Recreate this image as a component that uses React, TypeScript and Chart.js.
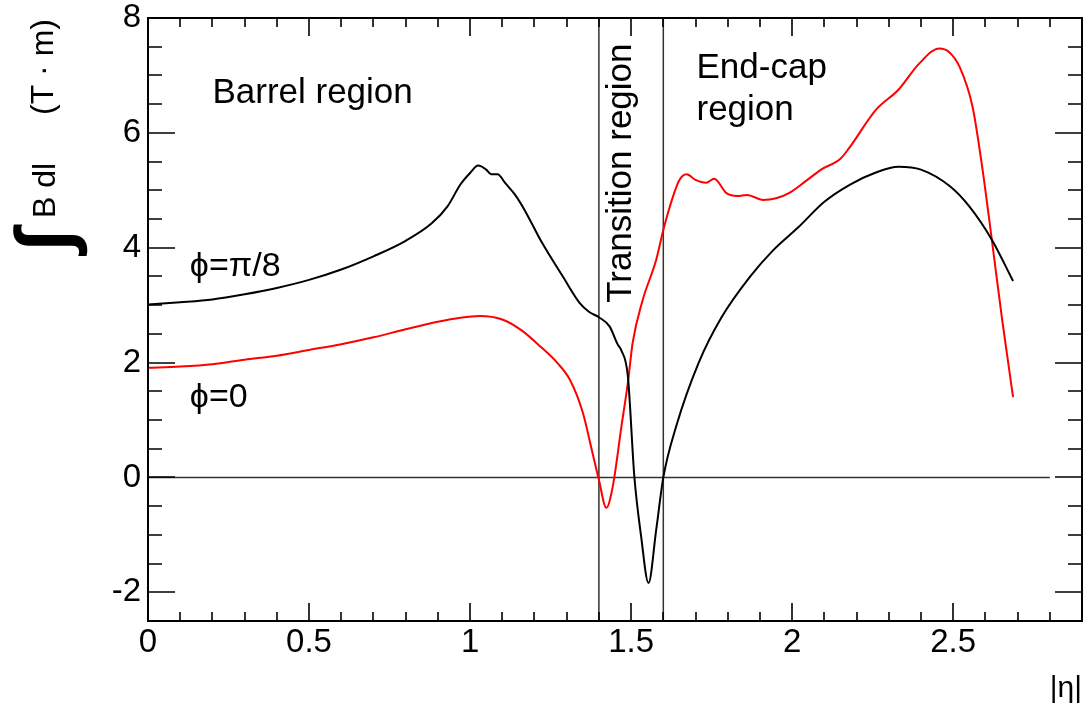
import { useEffect, useRef } from "react";
import { Chart, registerables } from "chart.js";

Chart.register(...registerables);

// ---- data ----
const etaPi8 = [0, 0.1, 0.2, 0.3, 0.4, 0.5, 0.6, 0.7, 0.8, 0.88, 0.93, 0.97, 1.0, 1.025, 1.05, 1.065, 1.085, 1.11, 1.14, 1.17, 1.22, 1.29, 1.34, 1.37, 1.4, 1.433, 1.459, 1.469, 1.49, 1.51, 1.531, 1.554, 1.578, 1.6, 1.64, 1.71, 1.78, 1.87, 1.94, 2.02, 2.1, 2.18, 2.26, 2.33, 2.4, 2.49, 2.55, 2.62, 2.686];
const bdlPi8 = [3.01, 3.05, 3.1, 3.19, 3.3, 3.44, 3.62, 3.85, 4.12, 4.42, 4.72, 5.1, 5.3, 5.43, 5.36, 5.28, 5.28, 5.12, 4.92, 4.65, 4.12, 3.48, 3.04, 2.88, 2.79, 2.63, 2.31, 2.22, 1.76, 0.02, -1.02, -1.84, -0.91, 0.0, 0.89, 2.0, 2.78, 3.5, 3.95, 4.36, 4.8, 5.1, 5.31, 5.41, 5.36, 5.07, 4.72, 4.14, 3.42];

const etaPhi0 = [0, 0.1, 0.2, 0.3, 0.4, 0.5, 0.6, 0.7, 0.8, 0.9, 0.97, 1.03, 1.1, 1.16, 1.22, 1.27, 1.31, 1.35, 1.38, 1.4, 1.423, 1.443, 1.47, 1.49, 1.505, 1.536, 1.578, 1.6, 1.63, 1.65, 1.672, 1.7, 1.733, 1.758, 1.796, 1.83, 1.86, 1.91, 1.95, 1.99, 2.04, 2.09, 2.15, 2.175, 2.26, 2.33, 2.395, 2.457, 2.487, 2.52, 2.56, 2.59, 2.62, 2.652, 2.686];
const bdlPhi0 = [1.91, 1.93, 1.97, 2.05, 2.12, 2.22, 2.32, 2.44, 2.58, 2.71, 2.78, 2.81, 2.75, 2.56, 2.27, 2.0, 1.7, 1.13, 0.43, -0.04, -0.53, -0.16, 0.89, 1.65, 2.35, 3.09, 3.79, 4.31, 4.89, 5.18, 5.28, 5.18, 5.13, 5.2, 4.95, 4.9, 4.92, 4.83, 4.86, 4.95, 5.15, 5.36, 5.55, 5.72, 6.4, 6.75, 7.21, 7.47, 7.41, 7.15, 6.46, 5.41, 4.14, 2.75, 1.4];

const xTickValues = [0, 0.5, 1, 1.5, 2, 2.5];
const yTickValues = [-2, 0, 2, 4, 6, 8];
const xRange = [0, 2.9];
const yRange = [-2.5, 8];
const xMinorStep = 0.1;
const yMinorStep = 0.5;
const transitionEdges = [1.4, 1.6];
const zeroLineEta = [0, 2.8];

const curveNames = ["ϕ=π/8", "ϕ=0"];
const curveLabelEta = [0.13, 0.13];
const curveLabelBdl = [3.51, 1.22];
const regionTexts = ["Barrel region", "End-cap", "region"];
const regionEta = [0.2, 1.703, 1.703];
const regionBdl = [6.52, 6.96, 6.22];
const transitionText = "Transition region";
const transitionTextEta = 1.501;
const transitionTextBdl = 3.04;
const xTitle = "|η|";

const FONT = "'Liberation Sans', Arial, Helvetica, sans-serif";

const rootPlugin = {
  id: "rootDecor",
  afterDraw(chart: any) {
    const { ctx, chartArea: a, scales } = chart;
    const x = scales.x;
    const y = scales.y;
    ctx.save();
    // frame
    ctx.strokeStyle = "#000";
    ctx.lineWidth = 2;
    ctx.strokeRect(a.left, a.top, a.right - a.left, a.bottom - a.top);
    // ticks inside the frame on all sides
    ctx.lineWidth = 1.6;
    ctx.beginPath();
    const nx = Math.round((xRange[1] - xRange[0]) / xMinorStep);
    for (let i = 0; i <= nx; i++) {
      const v = xRange[0] + i * xMinorStep;
      const px = Math.round(x.getPixelForValue(v));
      const major = xTickValues.some((t) => Math.abs(t - v) < 1e-6);
      const len = major ? 18 : 9;
      ctx.moveTo(px, a.bottom);
      ctx.lineTo(px, a.bottom - len);
      ctx.moveTo(px, a.top);
      ctx.lineTo(px, a.top + len);
    }
    const ny = Math.round((yRange[1] - yRange[0]) / yMinorStep);
    for (let i = 0; i <= ny; i++) {
      const v = yRange[0] + i * yMinorStep;
      const py = Math.round(y.getPixelForValue(v));
      const major = yTickValues.some((t) => Math.abs(t - v) < 1e-6);
      const len = major ? 27 : 14;
      ctx.moveTo(a.left, py);
      ctx.lineTo(a.left + len, py);
      ctx.moveTo(a.right, py);
      ctx.lineTo(a.right - len, py);
    }
    ctx.stroke();

    ctx.fillStyle = "#000";
    ctx.textBaseline = "alphabetic";
    ctx.textAlign = "left";
    ctx.font = `35px ${FONT}`;
    regionTexts.forEach((t, i) => {
      ctx.fillText(t, x.getPixelForValue(regionEta[i]), y.getPixelForValue(regionBdl[i]));
    });
    ctx.font = `34px ${FONT}`;
    curveNames.forEach((t, i) => {
      ctx.fillText(t, x.getPixelForValue(curveLabelEta[i]), y.getPixelForValue(curveLabelBdl[i]));
    });
    // rotated transition label
    ctx.save();
    ctx.font = `35px ${FONT}`;
    ctx.translate(x.getPixelForValue(transitionTextEta), y.getPixelForValue(transitionTextBdl));
    ctx.rotate(-Math.PI / 2);
    ctx.fillText(transitionText, 0, 0);
    ctx.restore();

    // x axis title
    ctx.textAlign = "right";
    ctx.font = `30px ${FONT}`;
    ctx.fillText(xTitle, a.right, a.bottom + 76);

    // y axis title: big integral + "B dl   (T · m)"
    ctx.textAlign = "left";
    ctx.font = `bold 100px ${FONT}`;
    const m = ctx.measureText("∫");
    const asc = m.actualBoundingBoxAscent;
    const desc = m.actualBoundingBoxDescent;
    const s = 75 / (asc + desc);
    const fs = 100 * s;
    ctx.font = `bold ${fs}px ${FONT}`;
    const m2 = ctx.measureText("∫");
    ctx.save();
    ctx.translate(13 + asc * s, a.top + 239);
    ctx.rotate(-Math.PI / 2);
    ctx.fillText("∫", m2.actualBoundingBoxLeft, 0);
    ctx.restore();

    ctx.font = `32px ${FONT}`;
    ctx.save();
    ctx.translate(55, a.top + 200);
    ctx.rotate(-Math.PI / 2);
    ctx.fillText("B dl", 0, 0);
    ctx.restore();
    ctx.save();
    ctx.translate(53, a.top + 97);
    ctx.rotate(-Math.PI / 2);
    ctx.fillText("(T · m)", 0, 0);
    ctx.restore();

    ctx.restore();
  },
};

export default function App() {
  const ref = useRef<HTMLCanvasElement>(null);
  useEffect(() => {
    const refLine = (pts: { x: number; y: number }[]) => ({
      data: pts,
      borderColor: "#333",
      borderWidth: 1.5,
      pointRadius: 0,
      tension: 0,
      order: 10,
    });
    const chart = new Chart(ref.current!, {
      type: "line",
      data: {
        datasets: [
          ...transitionEdges.map((e) =>
            refLine([
              { x: e, y: yRange[0] },
              { x: e, y: yRange[1] },
            ])
          ),
          refLine(zeroLineEta.map((e) => ({ x: e, y: 0 }))),
          {
            label: curveNames[1],
            data: etaPhi0.map((e, i) => ({ x: e, y: bdlPhi0[i] })),
            borderColor: "#ff0000",
            borderWidth: 2,
            pointRadius: 0,
            cubicInterpolationMode: "monotone",
            order: 2,
          },
          {
            label: curveNames[0],
            data: etaPi8.map((e, i) => ({ x: e, y: bdlPi8[i] })),
            borderColor: "#000",
            borderWidth: 2,
            pointRadius: 0,
            cubicInterpolationMode: "monotone",
            order: 1,
          },
        ] as any,
      },
      options: {
        animation: false,
        responsive: false,
        devicePixelRatio: 1,
        layout: { padding: { left: 0, top: 18, right: 7, bottom: 0 } },
        plugins: { legend: { display: false }, tooltip: { enabled: false } },
        scales: {
          x: {
            type: "linear",
            min: xRange[0],
            max: xRange[1],
            grid: { display: false, drawTicks: false },
            border: { display: false },
            afterBuildTicks: (sc: any) => {
              sc.ticks = xTickValues.map((v) => ({ value: v }));
            },
            afterFit: (sc: any) => {
              sc.height = 85;
              sc.paddingLeft = 0;
              sc.paddingRight = 0;
            },
            ticks: {
              padding: 2,
              color: "#000",
              font: { family: FONT, size: 33 },
              maxRotation: 0,
              autoSkip: false,
              callback: (v: any) => String(v),
            },
          },
          y: {
            type: "linear",
            min: yRange[0],
            max: yRange[1],
            grid: { display: false, drawTicks: false },
            border: { display: false },
            afterBuildTicks: (sc: any) => {
              sc.ticks = yTickValues.map((v) => ({ value: v }));
            },
            afterFit: (sc: any) => {
              sc.width = 148;
              sc.paddingTop = 0;
              sc.paddingBottom = 0;
            },
            ticks: {
              padding: 7,
              color: "#000",
              font: { family: FONT, size: 33 },
              autoSkip: false,
              callback: (v: any) => String(v),
            },
          },
        },
      } as any,
      plugins: [rootPlugin],
    });
    return () => chart.destroy();
  }, []);
  return (
    <div style={{ position: "fixed", left: 0, top: 0, width: 1089, height: 706, background: "#fff" }}>
      <canvas ref={ref} width={1089} height={706} style={{ display: "block", width: 1089, height: 706 }} />
    </div>
  );
}
